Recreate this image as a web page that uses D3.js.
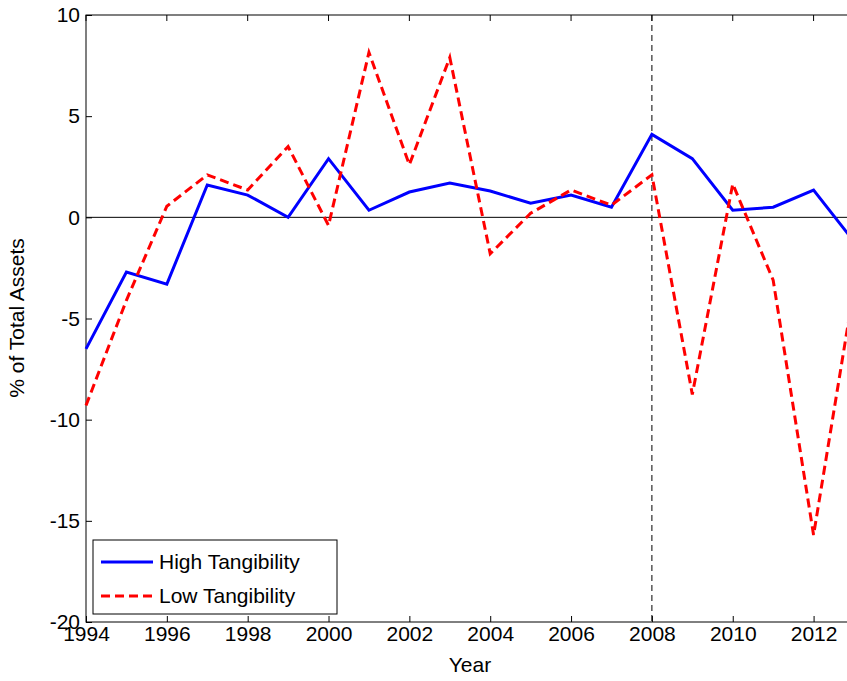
<!DOCTYPE html>
<html><head><meta charset="utf-8">
<script src="https://cdn.jsdelivr.net/npm/d3@7"></script>
<style>
body{margin:0;background:#fff;overflow:hidden}
svg{display:block;font-family:"Liberation Sans",Arial,sans-serif}
</style></head><body>
<svg id="chart" width="847" height="681"></svg>
<script>
// ── Data ──────────────────────────────────────────────────────────────
const years = d3.range(1994, 2014);
const highTang = [-6.5,-2.7,-3.3,1.6,1.1,0.0,2.9,0.35,1.25,1.7,1.3,0.7,1.1,0.5,4.1,2.9,0.35,0.5,1.35,-1.2];
const lowTang  = [-9.3,-4.1,0.55,2.1,1.35,3.5,-0.4,8.15,2.6,7.9,-1.8,0.2,1.35,0.6,2.1,-8.75,1.65,-3.1,-15.7,-3.5];
const xTicks = d3.range(1994, 2013, 2);
const yTicks = [-20,-15,-10,-5,0,5,10];

const svg = d3.select('#chart');
const L = 86, R = 854, T = 15, B = 622;
const x = d3.scaleLinear().domain([1994, 2013]).range([L, R]);
const y = d3.scaleLinear().domain([-20, 10]).range([B, T]);

// frame
svg.append('rect').attr('x', L).attr('y', T).attr('width', R - L).attr('height', B - T)
  .attr('fill', 'none').attr('stroke', '#000').attr('stroke-width', 1);

// axes, ticks inward
const xa = svg.append('g').attr('transform', `translate(0,${B})`)
  .call(d3.axisBottom(x).tickValues(xTicks).tickFormat(d3.format('d')).tickSizeInner(-6).tickSizeOuter(0).tickPadding(6));
const ya = svg.append('g').attr('transform', `translate(${L},0)`)
  .call(d3.axisLeft(y).tickValues(yTicks).tickFormat(d => String(d)).tickSizeInner(-6).tickSizeOuter(0).tickPadding(6));
[xa, ya].forEach(a => {
  a.select('.domain').remove();
  a.selectAll('text').attr('font-size', 21).attr('fill', '#000').attr('font-family', '"Liberation Sans",Arial,sans-serif');
});
xa.selectAll('text').attr('dy', '0.62em');
// top ticks
svg.append('g').selectAll('line').data(xTicks).join('line')
  .attr('x1', d => x(d)).attr('x2', d => x(d)).attr('y1', T).attr('y2', T + 6).attr('stroke', '#000');

// zero line and 2008 marker
svg.append('line').attr('x1', L).attr('x2', R).attr('y1', y(0)).attr('y2', y(0)).attr('stroke', '#000').attr('stroke-width', 1);
svg.append('line').attr('x1', x(2008)).attr('x2', x(2008)).attr('y1', T).attr('y2', B)
  .attr('stroke', '#000').attr('stroke-width', 1).attr('stroke-dasharray', '6,4');

const line = d3.line().x((d, i) => x(years[i])).y(d => y(d));
svg.append('path').datum(highTang).attr('d', line).attr('fill', 'none').attr('stroke', '#0000ff').attr('stroke-width', 3);
svg.append('path').datum(lowTang).attr('d', line).attr('fill', 'none').attr('stroke', '#ff0000').attr('stroke-width', 3).attr('stroke-dasharray', '9,5');

// labels
svg.append('text').attr('x', x(2003.5)).attr('y', 672).attr('text-anchor', 'middle').attr('font-size', 21).text('Year');
svg.append('text').attr('transform', 'translate(24,318) rotate(-90)').attr('text-anchor', 'middle').attr('font-size', 21).text('% of Total Assets');

// legend
const lg = svg.append('g').attr('transform', 'translate(93,540)');
lg.append('rect').attr('width', 244).attr('height', 74).attr('fill', '#fff').attr('stroke', '#000');
const items = [{name: 'High Tangibility', color: '#0000ff', dash: null}, {name: 'Low Tangibility', color: '#ff0000', dash: '9,5'}];
items.forEach((it, i) => {
  const yy = 22 + i * 34;
  lg.append('line').attr('x1', 8).attr('x2', 60).attr('y1', yy).attr('y2', yy)
    .attr('stroke', it.color).attr('stroke-width', 3).attr('stroke-dasharray', it.dash);
  lg.append('text').attr('x', 66).attr('y', yy + 7).attr('font-size', 21).text(it.name);
});
</script>
</body></html>
